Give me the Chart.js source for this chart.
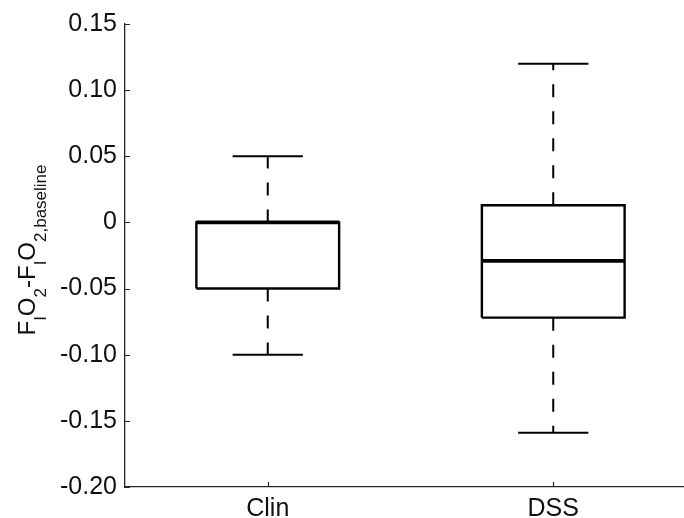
<!DOCTYPE html>
<html>
<head>
<meta charset="utf-8">
<script src="https://cdn.jsdelivr.net/npm/chart.js@4.4.1/dist/chart.umd.min.js"></script>
<style>
  html,body{margin:0;padding:0;background:#fff;overflow:hidden;}
  #wrap{width:684px;height:518px;position:relative;}
</style>
</head>
<body>
<div id="wrap"><canvas id="chart"></canvas></div>
<script>
// box plot values
const categories = ['Clin', 'DSS'];
const whiskerLow  = [-0.10, -0.159];
const q1          = [-0.05, -0.072];
const median      = [0.00, -0.029];
const q3          = [0.00, 0.013];
const whiskerHigh = [0.05, 0.12];
const yTicks = [0.15, 0.10, 0.05, 0, -0.05, -0.10, -0.15, -0.20];

const FONT = "'Liberation Sans', Arial, Helvetica, sans-serif";
const INK = '#000';
const AXIS = '#262626';
const boxHalf = 0.25;
const capHalf = 0.123;

function line(points, opts){
  return Object.assign({
    data: points,
    showLine: true,
    borderColor: INK,
    borderWidth: 2,
    pointRadius: 0,
    fill: false,
    tension: 0,
    borderCapStyle: 'butt',
    borderJoinStyle: 'miter'
  }, opts || {});
}

const datasets = [];
categories.forEach((c, i) => {
  const x = i + 1;
  // whiskers (dashed)
  datasets.push(line([{x, y: q3[i]}, {x, y: whiskerHigh[i]}], {borderDash: [13, 14]}));
  datasets.push(line([{x, y: q1[i]}, {x, y: whiskerLow[i]}], {borderDash: [13, 14]}));
  // caps
  datasets.push(line([{x: x - capHalf, y: whiskerHigh[i]}, {x: x + capHalf, y: whiskerHigh[i]}]));
  datasets.push(line([{x: x - capHalf, y: whiskerLow[i]}, {x: x + capHalf, y: whiskerLow[i]}]));
  // box
  datasets.push(line([
    {x: x - boxHalf, y: q1[i]}, {x: x - boxHalf, y: q3[i]},
    {x: x + boxHalf, y: q3[i]}, {x: x + boxHalf, y: q1[i]},
    {x: x - boxHalf, y: q1[i]}
  ], {borderWidth: 2.4}));
  // median
  datasets.push(line([{x: x - boxHalf, y: median[i]}, {x: x + boxHalf, y: median[i]}], {borderWidth: 3.8}));
});

// inward tick marks + y label with subscripts
const extras = {
  id: 'extras',
  afterDraw(chart){
    const ctx = chart.ctx;
    const xs = chart.scales.x, ys = chart.scales.y;
    const a = chart.chartArea;
    ctx.save();
    ctx.strokeStyle = AXIS;
    ctx.lineWidth = 1.2;
    ctx.beginPath();
    ys.ticks.forEach(t => {
      const py = Math.round(ys.getPixelForValue(t.value)) + 0.5;
      ctx.moveTo(a.left, py); ctx.lineTo(a.left + 5, py);
    });
    xs.ticks.forEach(t => {
      const px = Math.round(xs.getPixelForValue(t.value)) + 0.5;
      ctx.moveTo(px, a.bottom); ctx.lineTo(px, a.bottom - 5);
    });
    ctx.stroke();

    // F_I O_2 - F_I O_2,baseline
    const parts = [
      ['F', false], ['I', true], ['O', false], ['2', true],
      ['-F', false], ['I', true], ['O', false], ['2,baseline', true]
    ];
    const big = '24px ' + FONT, small = '17px ' + FONT;
    let total = 0;
    parts.forEach(p => { ctx.font = p[1] ? small : big; total += ctx.measureText(p[0]).width; });
    ctx.translate(35, 250);
    ctx.rotate(-Math.PI / 2);
    ctx.fillStyle = '#111';
    ctx.textBaseline = 'alphabetic';
    ctx.textAlign = 'left';
    let cx = -total / 2;
    parts.forEach(p => {
      ctx.font = p[1] ? small : big;
      ctx.fillText(p[0], cx, p[1] ? 11 : 0);
      cx += ctx.measureText(p[0]).width;
    });
    ctx.restore();
  }
};

new Chart(document.getElementById('chart'), {
  type: 'scatter',
  data: {datasets},
  plugins: [extras],
  options: {
    responsive: true,
    maintainAspectRatio: false,
    animation: false,
    layout: {padding: {top: 24, right: 0, left: 0, bottom: 0}},
    plugins: {legend: {display: false}, tooltip: {enabled: false}},
    scales: {
      x: {
        type: 'linear',
        min: 0.5,
        max: 2.458,
        afterBuildTicks: s => { s.ticks = categories.map((c, i) => ({value: i + 1})); },
        afterFit: s => { s.height = 31; },
        grid: {display: false, drawTicks: false},
        border: {display: true, color: AXIS, width: 1.3},
        ticks: {
          padding: 7,
          color: '#111',
          font: {family: FONT, size: 25},
          callback: v => categories[Math.round(v) - 1] || ''
        }
      },
      y: {
        type: 'linear',
        min: -0.2,
        max: 0.15,
        afterBuildTicks: s => { s.ticks = yTicks.map(v => ({value: v})); },
        afterFit: s => { s.width = 125; },
        grid: {display: false, drawTicks: false},
        border: {display: true, color: AXIS, width: 1.3},
        ticks: {
          padding: 8,
          color: '#111',
          font: {family: FONT, size: 25},
          callback: v => Math.abs(v) < 1e-9 ? '0' : v.toFixed(2)
        }
      }
    }
  }
});
</script>
</body>
</html>
